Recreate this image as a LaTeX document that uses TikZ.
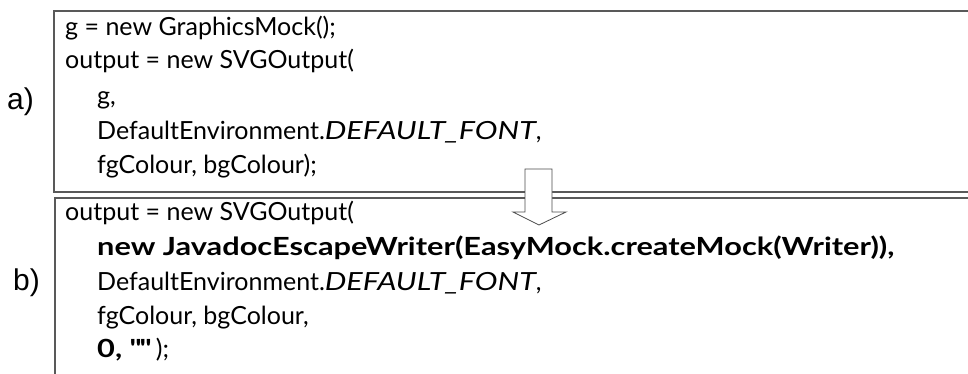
\documentclass[tikz,border=0pt]{standalone}
\usepackage{fontspec}
\setmainfont{Lato}[BoldFeatures={FakeStretch=1.23},ItalicFeatures={FakeStretch=1.22}]
\newfontfamily\tagfont{Liberation Sans}
\begin{document}
\begin{tikzpicture}[x=1pt,y=-1pt,
  codeline/.style={anchor=base west,inner sep=0pt,font=\fontsize{25}{25}\selectfont},
  panel/.style={draw=black!65,line width=1.3pt},
  tag/.style={anchor=base west,inner sep=0pt,font=\tagfont\fontsize{30}{30}\selectfont},
  blockarrow/.style={draw=black!70,fill=white,line width=0.8pt,line join=miter}]
\useasboundingbox (0,0) rectangle (968,374);
\clip (0,0) rectangle (968,374);

% panel a: original code
\draw[panel] (970,11) -- (54,11) -- (54,192) -- (970,192);
\node[tag] (taga) at (7,110) {a)};
\node[codeline] (a1) at (65,36)  {g = new GraphicsMock();};
\node[codeline] (a2) at (65,69)  {output = new SVGOutput(};
\node[codeline] (a3) at (97,105) {g,};
\node[codeline] (a4) at (97,140) {DefaultEnvironment.\textit{DEFAULT\_FONT},};
\node[codeline] (a5) at (97,174) {fgColour, bgColour);};

% panel b: rewritten code
\draw[panel] (970,198) -- (55,198) -- (55,380);
\node[tag] (tagb) at (13,290) {b)};
\node[codeline] (b1) at (65,220)   {output = new SVGOutput(};
\node[codeline] (b2) at (97,255)   {\textbf{new JavadocEscapeWriter(EasyMock.createMock(Writer)),}};
\node[codeline] (b3) at (97,290)   {DefaultEnvironment.\textit{DEFAULT\_FONT},};
\node[codeline] (b4) at (97,324)   {fgColour, bgColour,};
\node[codeline] (b5) at (97,357)   {\textbf{0, \textquotedbl\textquotedbl} );};

% transformation arrow between the panels
\draw[blockarrow] (525,169) -- (552,169) -- (552,212) -- (566,212) -- (539,225)
  -- (513,212) -- (525,212) -- cycle;
\end{tikzpicture}
\end{document}
